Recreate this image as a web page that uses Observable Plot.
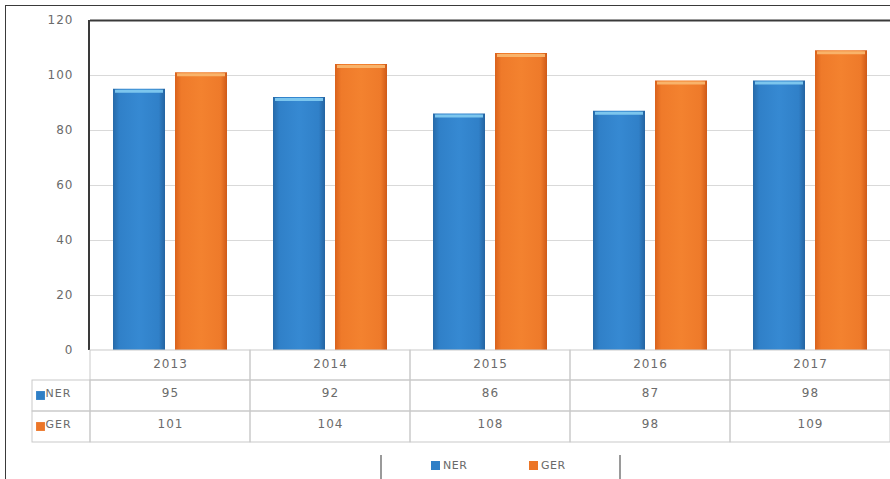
<!DOCTYPE html>
<html>
<head>
<meta charset="utf-8">
<script src="https://cdn.jsdelivr.net/npm/d3@7"></script>
<script src="https://cdn.jsdelivr.net/npm/@observablehq/plot@0.6"></script>
<style>
  html, body { margin: 0; padding: 0; background: #fff; }
  #wrap { position: relative; width: 890px; height: 479px; overflow: hidden; font-family: "DejaVu Sans", sans-serif; }
  #outer { position: absolute; left: 5px; top: 5px; right: -10px; bottom: -10px; border-left: 1.5px solid #3a3a3a; border-top: 1.5px solid #3a3a3a; pointer-events: none; }
  #legend { position: absolute; left: 0; top: 445px; width: 890px; height: 34px; font-size: 11px; color: #6a6a6a; letter-spacing: 0.5px; }
  .sep { position: absolute; top: 10px; width: 2px; height: 30px; background: #9a9a9a; }
  .item { position: absolute; top: 14px; display: flex; align-items: center; gap: 3px; }
  .key { width: 9px; height: 9px; display: inline-block; }
</style>
</head>
<body>
<svg width="0" height="0" style="position:absolute">
  <defs>
    <linearGradient id="gNER" x1="0" x2="1" y1="0" y2="0">
      <stop offset="0%" stop-color="#276aa8"/>
      <stop offset="12%" stop-color="#3080c8"/>
      <stop offset="50%" stop-color="#3689d2"/>
      <stop offset="88%" stop-color="#3080c8"/>
      <stop offset="100%" stop-color="#2463a0"/>
    </linearGradient>
    <linearGradient id="gGER" x1="0" x2="1" y1="0" y2="0">
      <stop offset="0%" stop-color="#d9621c"/>
      <stop offset="12%" stop-color="#ef7a2a"/>
      <stop offset="50%" stop-color="#f3822f"/>
      <stop offset="88%" stop-color="#ee7a2a"/>
      <stop offset="100%" stop-color="#cf5a18"/>
    </linearGradient>
  </defs>
</svg>
<div id="wrap">
  <div id="chart"></div>
  <div id="legend"></div>
  <div id="outer"></div>
</div>
<script>
// ---- data ----
const years = ["2013", "2014", "2015", "2016", "2017"];
const series = ["NER", "GER"];
const nerValues = [95, 92, 86, 87, 98];
const gerValues = [101, 104, 108, 98, 109];
const yTicks = [0, 20, 40, 60, 80, 100, 120];
const seriesFills = ["url(#gNER)", "url(#gGER)"];
const seriesKeys = ["#2f7fc6", "#ec7628"];
const seriesCaps = ["#7cc6ee", "#f9b36a"];

// ---- derived tables ----
const bars = [];
years.forEach((yr, i) => {
  bars.push({year: yr, series: "NER", value: nerValues[i]});
  bars.push({year: yr, series: "GER", value: gerValues[i]});
});
const rows = years.map((yr, i) => ({year: yr, NER: nerValues[i], GER: gerValues[i]}));
const first = [{year: years[0]}];
const gridColor = "#d9d9d9";
const tableColor = "#c9c9c9";

const chart = Plot.plot({
  width: 890,
  height: 445,
  marginLeft: 90,
  marginRight: 0,
  marginTop: 20,
  marginBottom: 95,
  style: {fontFamily: "DejaVu Sans, sans-serif", fontSize: "12px", color: "#6b6b6b", background: "transparent", letterSpacing: "1px"},
  fx: {domain: years, padding: 0, axis: "bottom", tickSize: 0, tickPadding: 9, label: null},
  x: {domain: series, paddingInner: 0.16, paddingOuter: 0.37, axis: null},
  y: {domain: [0, 120], ticks: yTicks, tickSize: 0, tickPadding: 17, label: null},
  color: {domain: series, range: seriesFills},
  marks: [
    // gridlines
    Plot.ruleY(yTicks.filter(t => t > 0 && t < 120), {stroke: gridColor, strokeWidth: 1}),
    // bars
    Plot.barY(bars, {fx: "year", x: "series", y: "value", fill: "series"}),
    // light top caps
    Plot.tickY(bars.filter(d => d.series === "NER"), {fx: "year", x: "series", y: "value", stroke: seriesCaps[0], strokeWidth: 3, dy: 2, inset: 2}),
    Plot.tickY(bars.filter(d => d.series === "GER"), {fx: "year", x: "series", y: "value", stroke: seriesCaps[1], strokeWidth: 3, dy: 2, inset: 2}),
    // plot frame: top and left dark lines
    Plot.ruleY([120], {stroke: "#3a3a3a", strokeWidth: 2}),
    Plot.rect(first, {fx: "year", fill: "#3a3a3a", insetLeft: -2, insetRight: 160}),
    // data table cells (per year column)
    Plot.rect(years, {fx: d => d, fill: "none", stroke: tableColor, insetTop: 330, insetBottom: -30}),
    Plot.rect(years, {fx: d => d, fill: "none", stroke: tableColor, insetTop: 360, insetBottom: -61}),
    Plot.rect(years, {fx: d => d, fill: "none", stroke: tableColor, insetTop: 391, insetBottom: -92}),
    // left label column
    Plot.rect(first, {fx: "year", fill: "none", stroke: tableColor, insetLeft: -58, insetRight: 160, insetTop: 360, insetBottom: -61}),
    Plot.rect(first, {fx: "year", fill: "none", stroke: tableColor, insetLeft: -58, insetRight: 160, insetTop: 391, insetBottom: -92}),
    // table values
    Plot.text(rows, {fx: "year", text: "NER", frameAnchor: "bottom", dy: 46}),
    Plot.text(rows, {fx: "year", text: "GER", frameAnchor: "bottom", dy: 77}),
    // row labels with keys
    Plot.dot(first, {fx: "year", frameAnchor: "bottom-left", dx: -50, dy: 45, symbol: "square", r: 5, fill: seriesKeys[0]}),
    Plot.dot(first, {fx: "year", frameAnchor: "bottom-left", dx: -50, dy: 76, symbol: "square", r: 5, fill: seriesKeys[1]}),
    Plot.text(first, {fx: "year", text: () => series[0], frameAnchor: "bottom-left", textAnchor: "start", dx: -45, dy: 46, fontSize: 11}),
    Plot.text(first, {fx: "year", text: () => series[1], frameAnchor: "bottom-left", textAnchor: "start", dx: -45, dy: 77, fontSize: 11})
  ]
});
document.getElementById("chart").appendChild(chart);

// ---- bottom legend ----
const legend = document.getElementById("legend");
const seps = [380, 619];
seps.forEach(x => {
  const s = document.createElement("div");
  s.className = "sep";
  s.style.left = x + "px";
  legend.appendChild(s);
});
const itemX = [431, 529];
series.forEach((name, i) => {
  const it = document.createElement("div");
  it.className = "item";
  it.style.left = itemX[i] + "px";
  const k = document.createElement("span");
  k.className = "key";
  k.style.background = seriesKeys[i];
  const t = document.createElement("span");
  t.textContent = name;
  it.appendChild(k);
  it.appendChild(t);
  legend.appendChild(it);
});
</script>
</body>
</html>
